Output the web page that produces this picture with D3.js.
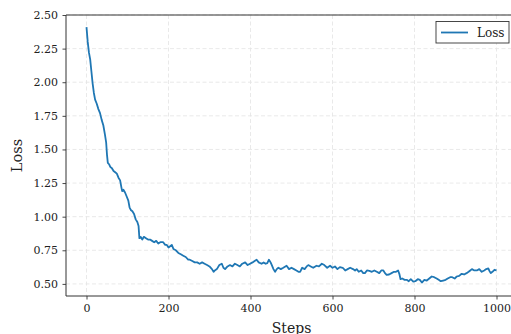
<!DOCTYPE html>
<html>
<head>
<meta charset="utf-8">
<script src="https://cdn.jsdelivr.net/npm/d3@7"></script>
<style>
  html, body { margin: 0; padding: 0; background: #fff; }
  svg { display: block; font-family: "DejaVu Serif", serif; }
</style>
</head>
<body>
<svg id="chart" width="511" height="334"></svg>
<script>
// values
const steps = [0,3,6,9,12,15,18,21,25,29,33,37,41,45,48,50,52,55,58,62,66,70,74,78,82,85,87,90,94,98,
  102,105,108,112,116,120,124,127,129,132,136,140,145,150,155,160,165,170,175,180,187,192,196,200,204,208,212,218,224,230,
  236,242,248,252,258,264,270,276,282,288,294,300,306,310,313,318,324,330,334,338,344,350,356,362,368,374,380,387,393,399,
  405,410,415,420,427,432,437,441,445,449,452,456,460,464,468,474,480,488,494,500,506,512,517,521,526,532,537,541,547,553,
  561,567,574,580,587,594,600,606,612,618,625,631,637,643,650,655,659,664,670,675,679,684,690,696,702,708,714,719,724,728,
  732,738,744,750,755,760,763,766,770,776,781,786,791,797,802,808,813,818,824,830,836,842,848,854,859,864,870,876,881,887,
  892,898,903,909,915,921,927,932,936,940,946,952,958,964,970,975,980,983,986,990,995,1000];
const loss = [2.41,2.30,2.22,2.17,2.08,1.99,1.92,1.87,1.84,1.80,1.77,1.72,1.68,1.61,1.55,1.46,1.40,1.39,1.37,1.36,1.34,1.33,1.32,1.29,1.27,1.22,1.19,1.20,1.18,1.15,
  1.12,1.07,1.05,1.04,1.02,0.98,0.96,0.93,0.84,0.85,0.83,0.85,0.84,0.83,0.83,0.82,0.81,0.82,0.80,0.81,0.81,0.79,0.79,0.77,0.78,0.79,0.76,0.75,0.73,0.72,
  0.71,0.70,0.68,0.68,0.67,0.66,0.66,0.65,0.66,0.65,0.64,0.63,0.61,0.59,0.60,0.61,0.64,0.65,0.62,0.61,0.63,0.64,0.63,0.65,0.64,0.63,0.65,0.66,0.64,0.65,
  0.66,0.67,0.68,0.66,0.65,0.66,0.65,0.655,0.68,0.66,0.64,0.61,0.59,0.61,0.62,0.61,0.62,0.635,0.61,0.62,0.61,0.60,0.59,0.59,0.62,0.61,0.63,0.64,0.63,0.62,
  0.635,0.63,0.65,0.64,0.62,0.635,0.62,0.63,0.61,0.625,0.62,0.60,0.61,0.62,0.61,0.60,0.61,0.59,0.60,0.58,0.58,0.60,0.597,0.59,0.60,0.59,0.58,0.60,0.60,0.58,
  0.567,0.57,0.58,0.59,0.59,0.60,0.575,0.535,0.54,0.53,0.53,0.52,0.535,0.517,0.52,0.535,0.53,0.51,0.53,0.525,0.54,0.555,0.55,0.54,0.53,0.52,0.525,0.53,0.54,0.55,
  0.55,0.54,0.555,0.56,0.575,0.57,0.58,0.59,0.60,0.61,0.60,0.60,0.61,0.59,0.60,0.61,0.615,0.595,0.58,0.59,0.605,0.60];
const xTicks = [0, 200, 400, 600, 800, 1000];
const yTicks = [0.50, 0.75, 1.00, 1.25, 1.50, 1.75, 2.00, 2.25, 2.50];

const data = steps.map((s, i) => ({x: s, y: loss[i]}));

const padL = 66, padR = 517, padT = 15, padB = 296;

const xScale = d3.scaleLinear()
                 .domain([-50, 1050])
                 .range([padL, padR]);
const yScale = d3.scaleLinear()
                 .domain([0.41, 2.5])
                 .range([padB, padT]);

const svg = d3.select('#chart');

// grid
const grid = svg.append('g').attr('stroke', '#e3e3e3').attr('stroke-width', 0.8)
                .attr('stroke-dasharray', '4,2.5');
grid.selectAll('.gx').data(xTicks).join('line')
    .attr('x1', d => xScale(d)).attr('x2', d => xScale(d))
    .attr('y1', padT).attr('y2', padB);
grid.selectAll('.gy').data(yTicks).join('line')
    .attr('x1', padL).attr('x2', padR)
    .attr('y1', d => yScale(d)).attr('y2', d => yScale(d));

// line
const line = d3.line()
               .x(d => xScale(d.x))
               .y(d => yScale(d.y));
svg.append('path')
   .datum(data)
   .attr('fill', 'none')
   .attr('stroke', '#1f77b4')
   .attr('stroke-width', 1.8)
   .attr('stroke-linejoin', 'round')
   .attr('d', line);

// axes
const xAxis = d3.axisBottom(xScale).tickValues(xTicks).tickSize(3.5).tickPadding(4.5)
                .tickFormat(d3.format('d'));
const yAxis = d3.axisLeft(yScale).tickValues(yTicks).tickSize(3.5).tickPadding(4.5)
                .tickFormat(d3.format('.2f'));

const gx = svg.append('g').attr('transform', `translate(0,${padB})`).call(xAxis);
const gy = svg.append('g').attr('transform', `translate(${padL},0)`).call(yAxis);
[gx, gy].forEach(g => {
  g.select('.domain').remove();
  g.selectAll('line').attr('stroke', '#333').attr('stroke-width', 0.9);
  g.selectAll('text').attr('fill', '#222').style('font-size', '11px')
   .style('font-family', '"DejaVu Serif", serif');
});

// spines: left, bottom, top
const spines = svg.append('g').attr('stroke', '#333').attr('stroke-width', 1).attr('fill', 'none');
spines.append('line').attr('x1', padL).attr('x2', padL).attr('y1', padT).attr('y2', padB);
spines.append('line').attr('x1', padL).attr('x2', padR).attr('y1', padB).attr('y2', padB);
spines.append('line').attr('x1', padL).attr('x2', padR).attr('y1', padT).attr('y2', padT);
spines.append('line').attr('x1', padR).attr('x2', padR).attr('y1', padT).attr('y2', padB);

// axis labels
svg.append('text')
   .attr('x', (xScale(0) + xScale(1000)) / 2)
   .attr('y', 333)
   .attr('text-anchor', 'middle')
   .style('font-size', '14px')
   .attr('fill', '#222')
   .text('Steps');
svg.append('text')
   .attr('transform', `translate(22,${(padT + padB) / 2}) rotate(-90)`)
   .attr('text-anchor', 'middle')
   .style('font-size', '14.5px')
   .attr('fill', '#222')
   .text('Loss');

// legend
const legend = svg.append('g').attr('transform', 'translate(436,21.5)');
legend.append('rect')
      .attr('width', 73).attr('height', 21.5)
      .attr('fill', '#fff').attr('stroke', '#333').attr('stroke-width', 0.9);
legend.append('line')
      .attr('x1', 5).attr('x2', 32).attr('y1', 11).attr('y2', 11)
      .attr('stroke', '#1f77b4').attr('stroke-width', 1.8);
legend.append('text')
      .attr('x', 41).attr('y', 15.5)
      .style('font-size', '12px')
      .attr('fill', '#222')
      .text('Loss');
</script>
</body>
</html>
